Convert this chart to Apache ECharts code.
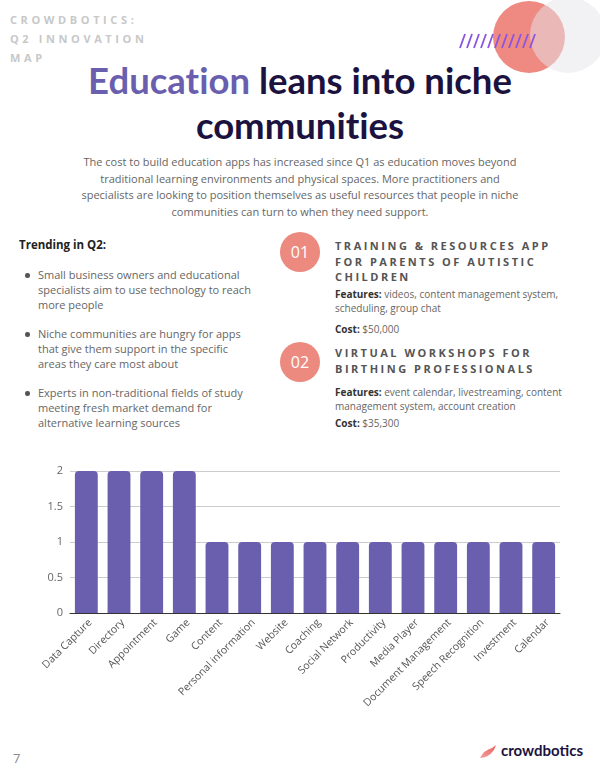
<!DOCTYPE html>
<html><head><meta charset="utf-8">
<script src="https://cdn.jsdelivr.net/npm/echarts@6/dist/echarts.min.js"></script>
<style>
html,body{margin:0;padding:0;width:600px;height:776px;background:#fff;overflow:hidden;font-family:"Open Sans",sans-serif;}
.abs{position:absolute;}
#kicker{left:10px;top:10px;font-size:11px;font-weight:700;letter-spacing:3.6px;color:#c8c8c8;line-height:19px;}
#title{left:0;width:600px;top:58px;text-align:center;font-family:Lato,sans-serif;font-weight:700;font-size:36.5px;line-height:45px;color:#1c1240;font-variant-ligatures:none;}
#title .hl{color:#6a5fae;}
#intro{left:0;width:600px;top:154px;text-align:center;font-size:11px;line-height:16.7px;color:#666;}
#trend{left:19px;top:237px;font-size:11.5px;font-weight:700;color:#222;}
ul{margin:0;padding:0;list-style:none;}
ul li{position:relative;padding-left:18px;font-size:11px;line-height:15px;color:#666;margin-bottom:14px;}
ul li:before{content:"";position:absolute;left:5px;top:6px;width:4.5px;height:4.5px;border-radius:50%;background:#555;}
#bul{left:20px;top:267px;width:232px;}
.num{width:40px;height:40px;border-radius:50%;background:#ec8a80;color:#fff;font-size:16px;text-align:center;line-height:40px;}
.head{font-size:11px;font-weight:700;letter-spacing:2.5px;color:#555;line-height:15.5px;}
.feat{font-size:10px;line-height:14px;color:#666;}
.feat b{color:#333;}
</style></head>
<body>
<div id="kicker" class="abs">CROWDBOTICS:<br>Q2 INNOVATION<br>MAP</div>
<svg class="abs" style="left:440px;top:0" width="160" height="110">
  <circle cx="89" cy="37" r="36" fill="#ef8a82"/>
  <circle cx="128" cy="35" r="38" fill="#e6e6ea" opacity="0.5"/>
  <g stroke="#8a55e0" stroke-width="1.8">
    <line x1="20" y1="48" x2="25" y2="34"/><line x1="27" y1="48" x2="32" y2="34"/>
    <line x1="34" y1="48" x2="39" y2="34"/><line x1="41" y1="48" x2="46" y2="34"/>
    <line x1="48" y1="48" x2="53" y2="34"/><line x1="55" y1="48" x2="60" y2="34"/>
    <line x1="62" y1="48" x2="67" y2="34"/><line x1="69" y1="48" x2="74" y2="34"/>
    <line x1="76" y1="48" x2="81" y2="34"/><line x1="83" y1="48" x2="88" y2="34"/>
    <line x1="90" y1="48" x2="95" y2="34"/>
  </g>
</svg>
<div id="title" class="abs"><span class="hl">Education</span> leans into niche<br>communities</div>
<div id="intro" class="abs">The cost to build education apps has increased since Q1 as education moves beyond<br>traditional learning environments and physical spaces. More practitioners and<br>specialists are looking to position themselves as useful resources that people in niche<br>communities can turn to when they need support.</div>
<div id="trend" class="abs">Trending in Q2:</div>
<ul id="bul" class="abs">
<li>Small business owners and educational specialists aim to use technology to reach more people</li>
<li>Niche communities are hungry for apps that give them support in the specific areas they care most about</li>
<li>Experts in non-traditional fields of study meeting fresh market demand for alternative learning sources</li>
</ul>
<div class="abs num" style="left:280px;top:232px">01</div>
<div class="abs head" style="left:335px;top:238px;width:230px">TRAINING &amp; RESOURCES APP FOR PARENTS OF AUTISTIC CHILDREN</div>
<div class="abs feat" style="left:335px;top:287px;width:235px"><b>Features:</b> videos, content management system, scheduling, group chat</div>
<div class="abs feat" style="left:335px;top:322px"><b>Cost:</b> $50,000</div>
<div class="abs num" style="left:280px;top:342px">02</div>
<div class="abs head" style="left:335px;top:345px;width:230px">VIRTUAL WORKSHOPS FOR BIRTHING PROFESSIONALS</div>
<div class="abs feat" style="left:335px;top:385px;width:240px"><b>Features:</b> event calendar, livestreaming, content management system, account creation</div>
<div class="abs feat" style="left:335px;top:416px"><b>Cost:</b> $35,300</div>

<div id="chart" class="abs" style="left:0;top:430px;width:600px;height:300px"></div>

<div class="abs" style="left:13px;top:749px;font-size:13px;color:#888">7</div>
<svg class="abs" style="left:478px;top:742px" width="22" height="20">
  <defs><linearGradient id="g" x1="0" y1="1" x2="1" y2="0"><stop offset="0" stop-color="#f5a0a0"/><stop offset="1" stop-color="#e8605a"/></linearGradient></defs>
  <path d="M2 16 Q6 8 14 6 L18 3 L16 8 Q10 16 2 16 Z" fill="url(#g)"/>
</svg>
<div class="abs" style="left:501px;top:741px;font-family:Lato,sans-serif;font-weight:700;font-size:15px;color:#1c1240">crowdbotics</div>

<script>
const categories = ["Data Capture","Directory","Appointment","Game","Content","Personal information","Website","Coaching","Social Network","Productivity","Media Player","Document Management","Speech Recognition","Investment","Calendar"];
const counts = [2,2,2,2,1,1,1,1,1,1,1,1,1,1,1];
const yTicks = {min:0, max:2, interval:0.5};

const chart = echarts.init(document.getElementById('chart'), null, {renderer:'canvas'});
chart.setOption({
  animation:false,
  grid:{left:70, right:40, top:41, bottom:117},
  xAxis:{type:'category', data:categories,
    axisLine:{lineStyle:{color:'#333', width:1}}, axisTick:{show:false},
    axisLabel:{rotate:45, interval:0, color:'#555', fontSize:10.5, fontFamily:'Open Sans', margin:4, verticalAlign:'top'}},
  yAxis:{type:'value', min:yTicks.min, max:yTicks.max, interval:yTicks.interval,
    axisLine:{show:false}, axisTick:{show:false},
    axisLabel:{color:'#666', fontSize:11, fontFamily:'Open Sans', margin:7},
    splitLine:{lineStyle:{color:'#cccccc', width:1}}},
  series:[{type:'bar', data:counts, barCategoryGap:'30%', z:1,
    itemStyle:{color:'#6a5fae', borderRadius:[4,4,0,0]}}]
});
</script>
</body></html>
